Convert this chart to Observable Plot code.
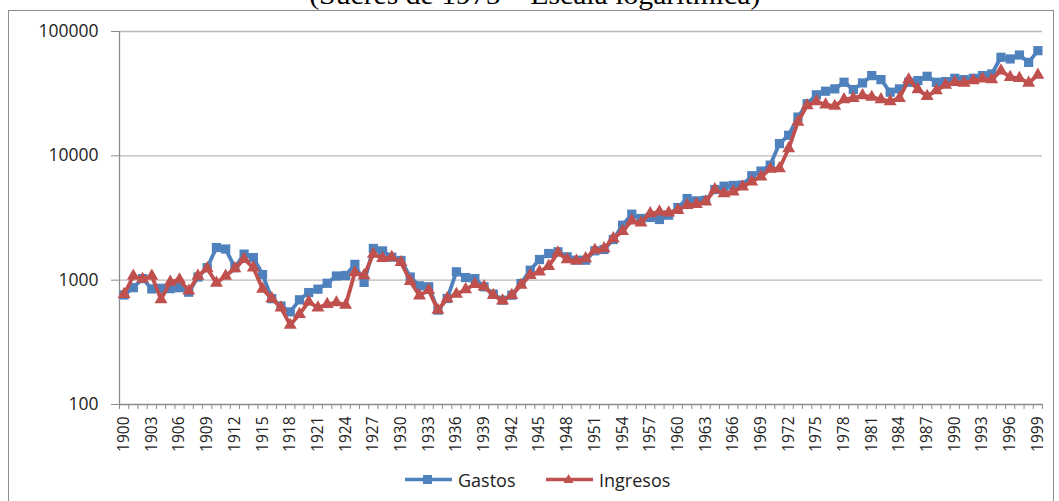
<!DOCTYPE html>
<html>
<head>
<meta charset="utf-8">
<script src="https://cdn.jsdelivr.net/npm/d3@7"></script>
<script src="https://cdn.jsdelivr.net/npm/@observablehq/plot@0.6"></script>
<style>
  html, body { margin: 0; padding: 0; background: #fff; }
  #wrap { position: relative; width: 1059px; height: 501px; overflow: hidden; font-family: "Open Sans", sans-serif; }
  #frame { position: absolute; left: 8px; top: 10px; width: 1046px; height: 520px; border: 1px solid #8c8c8c; box-sizing: border-box; }
  #title { position: absolute; left: 0; width: 1070px; top: -18px; text-align: center; font-family: "Liberation Serif", serif; font-size: 27px; line-height: 27px; color: #000; white-space: nowrap; transform: scaleX(1.1); transform-origin: 537px 0; }
  #chart { position: absolute; left: 0; top: 0; }
  #legend { position: absolute; top: 468px; left: 0; width: 1059px; height: 24px; }
  #legend .item { position: absolute; top: 0; display: flex; align-items: center; font-size: 18px; color: #222; height: 24px; }
</style>
</head>
<body>
<div id="wrap">
  <div id="frame"></div>
  <div id="title">(Sucres de 1975 – Escala logarítmica)</div>
  <div id="chart"></div>
  <div id="legend"></div>
</div>
<script>
const years = d3.range(1900, 2000);
const seriesNames = ["Gastos", "Ingresos"];
const seriesColors = ["#4F81BD", "#C0504D"];
const yTicks = [100, 1000, 10000, 100000];
const xLabelYears = d3.range(1900, 2000, 3);

const gastos = [
  760, 870, 1030, 850, 860, 855, 870, 800, 1060, 1260,
  1830, 1780, 1260, 1620, 1520, 1110, 710, 620, 556, 695,
  795, 846, 944, 1080, 1090, 1340, 960, 1800, 1720, 1530,
  1440, 1060, 900, 885, 574, 712, 1167, 1050, 1030, 884,
  772, 690, 757, 940, 1203, 1466, 1638, 1690, 1540, 1448,
  1448, 1722, 1765, 2123, 2766, 3395, 3134, 3194, 3077, 3333,
  3838, 4534, 4342, 4396, 5360, 5700, 5780, 5825, 6918, 7540,
  8420, 12550, 14630, 20500, 26240, 30970, 33100, 34550, 39050, 34130,
  38570, 44160, 41040, 32500, 34550, 39050, 40280, 43620, 39050, 39560,
  42030, 41040, 42030, 44160, 45550, 62050, 60150, 64660, 56420, 70100
];
const ingresos = [
  770, 1080, 1020, 1080, 700, 967, 1010, 820, 1080, 1240,
  950, 1080, 1240, 1475, 1260, 850, 711, 600, 435, 533,
  670, 600, 640, 660, 630, 1150, 1090, 1620, 1500, 1530,
  1390, 980, 750, 830, 574, 712, 772, 840, 929, 884,
  757, 682, 757, 912, 1097, 1167, 1296, 1659, 1466, 1430,
  1493, 1744, 1798, 2164, 2479, 3001, 2891, 3437, 3546, 3481,
  3656, 4010, 4086, 4266, 5360, 4980, 5140, 5650, 6198, 6795,
  7820, 7920, 11450, 18720, 25430, 27390, 25770, 25120, 28400, 29100,
  30570, 29660, 28400, 27390, 29100, 41040, 34130, 30200, 33500, 37190,
  39050, 38570, 40280, 41580, 41040, 48420, 42900, 42030, 38570, 44750
];

const rowsG = years.map((y, i) => ({year: y, value: gastos[i]}));
const rowsI = years.map((y, i) => ({year: y, value: ingresos[i]}));
const boundaries = d3.range(years[0] - 0.5, years[years.length - 1] + 1, 1);

const chart = Plot.plot({
  width: 1059,
  height: 460,
  marginTop: 31,
  marginBottom: 56,
  marginLeft: 119,
  marginRight: 17,
  style: {fontFamily: "'Open Sans', sans-serif", background: "transparent", color: "#222"},
  x: {type: "linear", domain: [years[0] - 0.5, years[years.length - 1] + 0.5]},
  y: {type: "log", domain: [yTicks[0], yTicks[yTicks.length - 1]]},
  marks: [
    Plot.ruleY(yTicks.slice(1), {stroke: "#b8b8b8", strokeWidth: 1.3}),
    Plot.ruleY([yTicks[0]], {stroke: "#8c8c8c", strokeWidth: 1.3}),
    Plot.ruleX([years[0] - 0.5], {y1: yTicks[0], y2: yTicks[yTicks.length - 1], stroke: "#8c8c8c", strokeWidth: 1.3}),
    Plot.axisY({ticks: yTicks, tickFormat: d => String(d), tickSize: 8, tickPadding: 13, stroke: "#8c8c8c", fontSize: 17.5, label: null}),
    Plot.axisX({ticks: boundaries, tickSize: 5, tickFormat: () => "", stroke: "#8c8c8c", label: null}),
    Plot.axisX({ticks: xLabelYears, tickSize: 0, tickPadding: 12, tickRotate: -90, tickFormat: d => String(d), fontSize: 15.5, label: null}),
    Plot.line(rowsG, {x: "year", y: "value", stroke: seriesColors[0], strokeWidth: 3.8}),
    Plot.dot(rowsG, {x: "year", y: "value", symbol: "square", r: 5.2, fill: seriesColors[0], stroke: null}),
    Plot.line(rowsI, {x: "year", y: "value", stroke: seriesColors[1], strokeWidth: 3.8}),
    Plot.dot(rowsI, {x: "year", y: "value", symbol: "triangle", r: 4.8, fill: seriesColors[1], stroke: null})
  ]
});
document.getElementById("chart").appendChild(chart);

// Legend
const legend = document.getElementById("legend");
const lefts = [404, 545];
const symbols = ["square", "triangle"];
seriesNames.forEach((name, i) => {
  const item = document.createElement("div");
  item.className = "item";
  item.style.left = lefts[i] + "px";
  const sym = symbols[i] === "square"
    ? `<rect x="19" y="7" width="9" height="9" fill="${seriesColors[i]}"/>`
    : `<path d="M23.5,6 L28.5,15 L18.5,15 Z" fill="${seriesColors[i]}"/>`;
  item.innerHTML = `<svg width="50" height="24" style="margin-right:4px"><line x1="1" x2="48" y1="11.5" y2="11.5" stroke="${seriesColors[i]}" stroke-width="3.5"/>${sym}</svg><span>${name}</span>`;
  legend.appendChild(item);
});
</script>
</body>
</html>
